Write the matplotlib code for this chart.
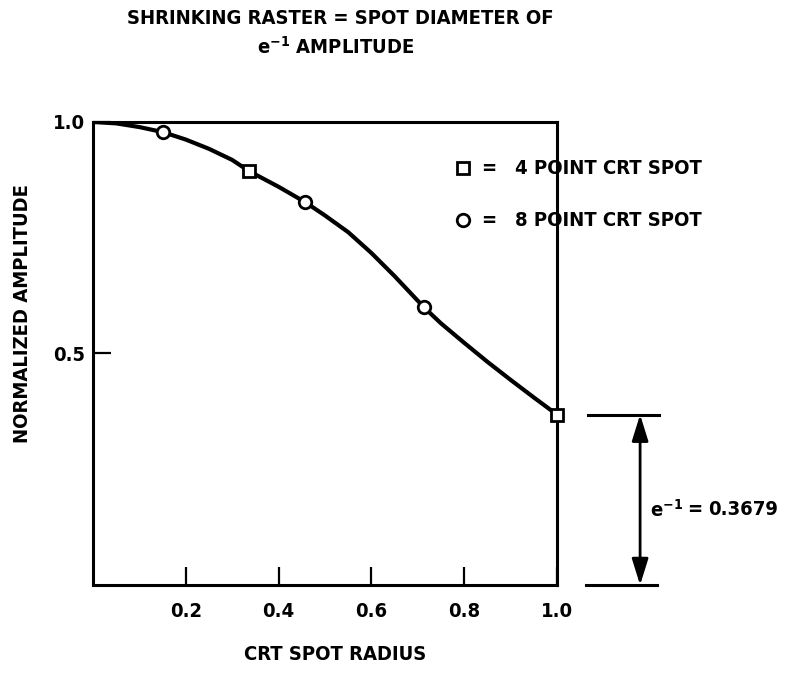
import matplotlib
matplotlib.use("Agg")
from matplotlib import pyplot as plt

plt.rcParams['font.family'] = ['DejaVu Sans']
plt.rcParams['font.weight'] = 'bold'
plt.rcParams['font.stretch'] = 'condensed'
plt.rcParams['mathtext.fontset'] = 'custom'
plt.rcParams['mathtext.rm'] = 'DejaVu Sans:weight=bold:stretch=condensed'
plt.rcParams['mathtext.bf'] = 'DejaVu Sans:weight=bold:stretch=condensed'
plt.rcParams['mathtext.default'] = 'rm'

# normalized amplitude vs spot radius
curve_x = [0.0, 0.05, 0.10, 0.151, 0.20, 0.25, 0.30, 0.336, 0.40, 0.457, 0.50,
           0.55, 0.60, 0.65, 0.713, 0.75, 0.80, 0.85, 0.90, 0.95, 1.0]
curve_y = [1.0, 0.997, 0.989, 0.978, 0.962, 0.942, 0.918, 0.894, 0.860, 0.827, 0.798,
           0.762, 0.717, 0.667, 0.600, 0.565, 0.523, 0.482, 0.443, 0.405, 0.3679]

# 8 point spot samples (circles) and 4 point spot samples (squares)
circle_x = [0.151, 0.457, 0.713]
circle_y = [0.978, 0.827, 0.600]
square_x = [0.336, 1.0]
square_y = [0.894, 0.3679]

x_ticks = [0.2, 0.4, 0.6, 0.8, 1.0]
x_tick_labels = ['0.2', '0.4', '0.6', '0.8', '1.0']
y_ticks = [0.5, 1.0]
y_tick_labels = ['0.5', '1.0']
e_inv = 0.3679

FS = 14.5

fig = plt.figure(figsize=(7.86, 6.75), dpi=100)
ax = fig.add_axes([0.1183, 0.1333, 0.5904, 0.686])

ax.plot(curve_x, curve_y, color='k', lw=3, solid_capstyle='round',
        solid_joinstyle='round', zorder=3)
ax.plot(circle_x, circle_y, 'o', ms=9, mfc='white', mec='k', mew=2, zorder=4, clip_on=False)
ax.plot(square_x, square_y, 's', ms=9, mfc='white', mec='k', mew=2, zorder=4, clip_on=False)

ax.set_xlim(0, 1.0)
ax.set_ylim(0, 1.0)
for s in ax.spines.values():
    s.set_linewidth(2.2)

ax.set_xticks(x_ticks)
ax.set_xticklabels(x_tick_labels, fontsize=FS, fontweight='bold')
ax.set_yticks(y_ticks)
ax.set_yticklabels(y_tick_labels, fontsize=FS, fontweight='bold')
ax.tick_params(axis='x', direction='in', length=13, width=1.6, pad=12)
ax.tick_params(axis='y', direction='in', length=13, width=1.6, pad=6)

# legend drawn by hand inside the axes
ax.plot([0.798], [0.90], 's', ms=8, mfc='white', mec='k', mew=2)
ax.plot([0.798], [0.788], 'o', ms=9, mfc='white', mec='k', mew=2)
ax.text(0.853, 0.90, '=', fontsize=FS, va='center', ha='center')
ax.text(0.853, 0.788, '=', fontsize=FS, va='center', ha='center')
ax.text(0.91, 0.90, '4 POINT CRT SPOT', fontsize=FS, va='center', ha='left')
ax.text(0.91, 0.788, '8 POINT CRT SPOT', fontsize=FS, va='center', ha='left')

# e^-1 dimension marker to the right of the axes
ax.plot([1.067, 1.22], [e_inv, e_inv], color='k', lw=2.2, clip_on=False)
ax.plot([1.063, 1.216], [0, 0], color='k', lw=2.2, clip_on=False)
ax.annotate('', xy=(1.179, e_inv), xytext=(1.179, 0), annotation_clip=False,
            arrowprops=dict(arrowstyle='<|-|>,head_length=1.6,head_width=0.5',
                            color='k', lw=2, shrinkA=0, shrinkB=0))
ax.text(1.200, 0.163, r'$e^{-1}$', fontsize=FS, va='center', ha='left', clip_on=False)
ax.text(1.297, 0.163, '=', fontsize=FS, va='center', ha='center', clip_on=False)
ax.text(1.325, 0.163, '%.4f' % e_inv, fontsize=FS, va='center', ha='left', clip_on=False)

fig.text(0.433, 0.972, 'SHRINKING RASTER = SPOT DIAMETER OF', fontsize=FS,
         ha='center', va='center')
fig.text(0.427, 0.930, r'$e^{-1}$ AMPLITUDE', fontsize=FS,
         ha='center', va='center')
fig.text(0.426, 0.030, 'CRT SPOT RADIUS', fontsize=FS, ha='center', va='center')
fig.text(0.028, 0.536, 'NORMALIZED AMPLITUDE', fontsize=FS, ha='center',
         va='center', rotation=90)

fig.savefig('out.png', dpi=100)
